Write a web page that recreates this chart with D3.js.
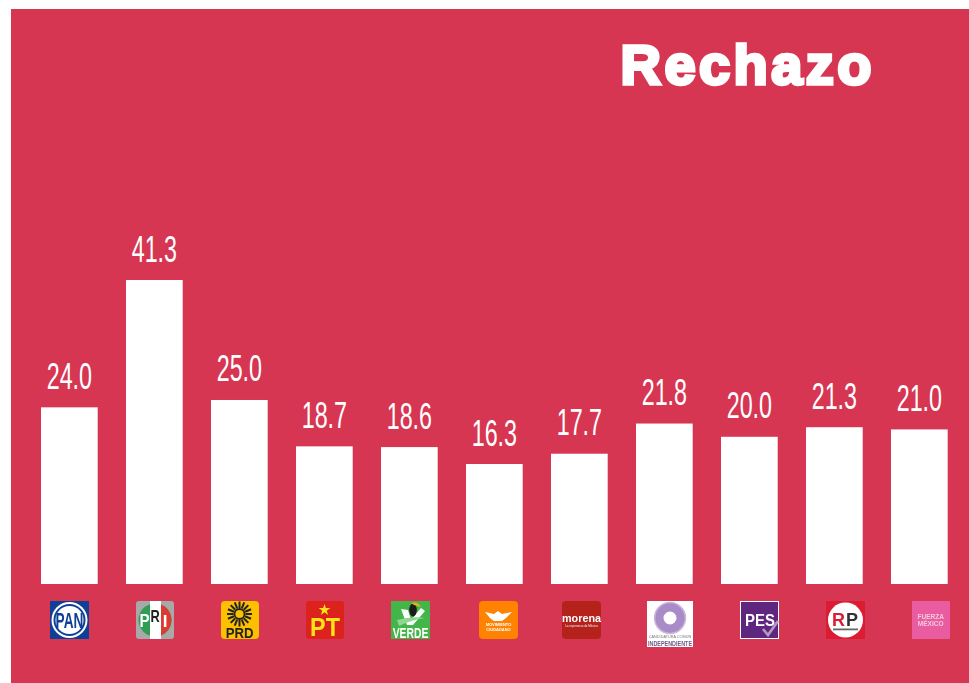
<!DOCTYPE html>
<html>
<head>
<meta charset="utf-8">
<script src="https://d3js.org/d3.v7.min.js"></script>
<style>
  html, body { margin: 0; padding: 0; background: #fff; }
  svg { display: block; }
</style>
</head>
<body>
<script>
// chart values
var parties = ["PAN", "PRI", "PRD", "PT", "VERDE", "MC", "MORENA", "INDEPENDIENTE", "PES", "RSP", "FXM"];
var rechazo = [24.0, 41.3, 25.0, 18.7, 18.6, 16.3, 17.7, 21.8, 20.0, 21.3, 21.0];
var titleText = "Rechazo";

var svgWidth = 969;
var svgHeight = 683;
var red = "#d63652";

var svg = d3.select("body").append("svg")
  .attr("width", svgWidth)
  .attr("height", svgHeight);

// the logos in the original are small blurry images
var blur = svg.append("defs").append("filter")
  .attr("id", "soft")
  .attr("x", "-5%").attr("y", "-5%")
  .attr("width", "110%").attr("height", "110%");
blur.append("feGaussianBlur").attr("stdDeviation", 0.35);

svg.append("rect")
  .attr("x", 11).attr("y", 9)
  .attr("width", svgWidth - 11).attr("height", svgHeight - 9)
  .attr("fill", red);

// scales: step of 85, bars about 56.7 wide, first bar starts at 41
var xScale = d3.scaleBand()
  .domain(parties)
  .range([41, 41 + 85 * 11 - 28.3])
  .paddingInner(28.3 / 85)
  .paddingOuter(0);

var yScale = d3.scaleLinear()
  .domain([0, 41.3])
  .range([584, 280]);

// bars
svg.selectAll("rect.bar")
  .data(parties)
  .enter()
  .append("rect")
  .attr("class", "bar")
  .attr("x", d => xScale(d))
  .attr("y", (d, i) => yScale(rechazo[i]))
  .attr("width", xScale.bandwidth())
  .attr("height", (d, i) => yScale(0) - yScale(rechazo[i]))
  .attr("fill", "#fff");

// value labels, squeezed to get the tall narrow look
svg.selectAll("text.value")
  .data(parties)
  .enter()
  .append("text")
  .attr("class", "value")
  .attr("transform", (d, i) => `translate(${xScale(d) + xScale.bandwidth() / 2}, ${yScale(rechazo[i]) - 18.5}) scale(0.63, 1)`)
  .attr("text-anchor", "middle")
  .attr("font-family", "'Liberation Sans Narrow', 'Liberation Sans', sans-serif")
  .attr("font-size", 37)
  .attr("fill", "#fff")
  .text((d, i) => rechazo[i].toFixed(1));

// title
svg.append("text")
  .attr("x", 620.5)
  .attr("y", 84)
  .attr("font-family", "'Liberation Sans', sans-serif")
  .attr("font-weight", "bold")
  .attr("font-size", 56)
  .attr("fill", "#fff")
  .attr("stroke", "#fff")
  .attr("stroke-width", 3.4)
  .attr("stroke-linejoin", "miter")
  .attr("textLength", 251)
  .attr("lengthAdjust", "spacing")
  .text(titleText);

// small helper for the text inside the logos
function logoText(g, str, x, y, size, fill, weight, squeeze) {
  g.append("text")
    .attr("transform", `translate(${x}, ${y}) scale(${squeeze || 1}, 1)`)
    .attr("text-anchor", "middle")
    .attr("font-family", "'Liberation Sans', sans-serif")
    .attr("font-weight", weight || "bold")
    .attr("font-size", size)
    .attr("fill", fill)
    .text(str);
}

function square(g, fill, r, w, h) {
  g.append("rect")
    .attr("width", w || 38).attr("height", h || 38)
    .attr("rx", r).attr("fill", fill);
}

// one drawing function per party logo, all on a 38 x 38 box
var logoDrawers = {
  PAN: function (g) {
    square(g, "#0f3f96", 0, 39, 38);
    g.append("circle").attr("cx", 19.5).attr("cy", 19).attr("r", 18).attr("fill", "#fff");
    g.append("circle").attr("cx", 19.5).attr("cy", 19).attr("r", 16).attr("fill", "#0f3f96");
    g.append("circle").attr("cx", 19.5).attr("cy", 19).attr("r", 14).attr("fill", "#fff");
    logoText(g, "PAN", 19.5, 27, 22, "#0f3f96", "bold", 0.62);
  },
  PRI: function (g) {
    square(g, "#a8a8a8", 3);
    g.append("circle").attr("cx", 19).attr("cy", 19).attr("r", 16.5).attr("fill", "#2f9e54");
    g.append("path").attr("d", "M25,3.6 A16.5,16.5 0 0 1 25,34.4 Z").attr("fill", "#dc3a32");
    g.append("rect").attr("x", 14).attr("y", 0).attr("width", 11).attr("height", 38).attr("fill", "#fff");
    logoText(g, "P", 8.5, 26, 19, "#fff", "bold", 0.8);
    logoText(g, "R", 19, 20.7, 16, "#222", "bold", 0.8);
    logoText(g, "I", 29, 26, 17, "#fff");
  },
  PRD: function (g) {
    square(g, "#fcc000", 4);
    var rays = d3.range(16).map(d => d * 22.5);
    g.selectAll("line").data(rays).enter().append("line")
      .attr("x1", 18.5).attr("y1", 0.5)
      .attr("x2", 18.5).attr("y2", 7)
      .attr("transform", d => `rotate(${d}, 18.5, 13)`)
      .attr("stroke", "#222").attr("stroke-width", 2);
    g.append("circle").attr("cx", 18.5).attr("cy", 13).attr("r", 5)
      .attr("fill", "none").attr("stroke", "#222").attr("stroke-width", 1.8);
    logoText(g, "PRD", 18.6, 36.7, 15, "#222", "bold", 0.88);
  },
  PT: function (g) {
    square(g, "#dc231e", 3);
    g.append("path")
      .attr("d", d3.symbol().type(d3.symbolStar).size(42))
      .attr("transform", "translate(18.5, 9)")
      .attr("fill", "#fbe313");
    logoText(g, "PT", 19, 34.7, 26, "#fbe313", "bold", 0.9);
  },
  VERDE: function (g) {
    square(g, "#43b649", 0, 39, 38);
    g.append("path").attr("d", "M10,8 L17,9 L20,19 L30,7 L34,10 L22,24 L16,24 Z").attr("fill", "#fff");
    g.append("path").attr("d", "M6,19 Q20,15 34,17 Q20,19 8,25 Z").attr("fill", "#8fd690");
    g.append("ellipse").attr("cx", 22).attr("cy", 9).attr("rx", 3.8).attr("ry", 6.5).attr("fill", "#1c1c1c");
    g.append("path").attr("d", "M20,2 Q27,0 30,6 L23,4 Z").attr("fill", "#f0a81e");
    logoText(g, "VERDE", 19.5, 36.7, 14, "#fff", "bold", 0.74);
  },
  MC: function (g) {
    square(g, "#ff8200", 4, 39, 38);
    g.append("path").attr("d", "M6,11 L15,13 L19,10 L23,13 L33,11 L27,17 L23,20 L15,20 L11,17 Z").attr("fill", "#fff");
    logoText(g, "MOVIMIENTO", 19.5, 24.5, 4, "#fff");
    logoText(g, "CIUDADANO", 19.5, 29.5, 4, "#fff");
  },
  MORENA: function (g) {
    square(g, "#b5241f", 4, 39, 38);
    logoText(g, "morena", 19.5, 21, 10.8, "#fff");
    logoText(g, "La esperanza de México", 19.5, 25.5, 3, "#eee", "normal");
  },
  INDEPENDIENTE: function (g) {
    square(g, "#fff", 0, 46, 46);
    g.append("circle").attr("cx", 23).attr("cy", 17).attr("r", 11)
      .attr("fill", "none").attr("stroke", "#a98bc8").attr("stroke-width", 9);
    g.append("circle").attr("cx", 23).attr("cy", 17).attr("r", 15.4)
      .attr("fill", "none").attr("stroke", "#c9b5de").attr("stroke-width", 1.5);
    logoText(g, "CANDIDATURA COMUN", 23, 37, 3.8, "#777", "normal");
    logoText(g, "INDEPENDIENTE", 23, 44.5, 8, "#6f5a86", "bold", 0.68);
  },
  PES: function (g) {
    square(g, "#fff", 0, 39, 38);
    g.append("rect").attr("x", 1).attr("y", 1).attr("width", 37).attr("height", 36).attr("fill", "#5e2580");
    logoText(g, "PES", 20, 24.7, 17, "#fff", "bold", 0.88);
    g.append("path").attr("d", "M23,28 L28,34 L38,20").attr("fill", "none")
      .attr("stroke", "#b59ac6").attr("stroke-width", 2.6);
  },
  RSP: function (g) {
    square(g, "#dc1e32", 0, 39, 38);
    g.append("circle").attr("cx", 19.5).attr("cy", 19).attr("r", 17.5).attr("fill", "#fff");
    logoText(g, "R", 12.5, 25, 18, "#dc1e32");
    logoText(g, "P", 26, 25, 18, "#333");
    g.append("rect").attr("x", 7).attr("y", 27.5).attr("width", 25).attr("height", 1.8).attr("fill", "#666");
  },
  FXM: function (g) {
    square(g, "#ea5ba0", 0);
    logoText(g, "FUERZA", 18.7, 18, 6.5, "#f6c9df");
    logoText(g, "MÉXICO", 18.7, 25, 6.5, "#f6c9df");
  }
};

// logo row does not sit exactly under the bars, it drifts to the right
var logoLeft = [50, 136, 221, 306, 391, 479, 562, 647, 740, 826, 912];
var logoGroups = svg.selectAll("g.logo")
  .data(parties)
  .enter()
  .append("g")
  .attr("class", "logo")
  .attr("filter", "url(#soft)")
  .attr("transform", (d, i) => `translate(${logoLeft[i]}, 601)`);

logoGroups.each(function (d) {
  logoDrawers[d](d3.select(this));
});
</script>
</body>
</html>
